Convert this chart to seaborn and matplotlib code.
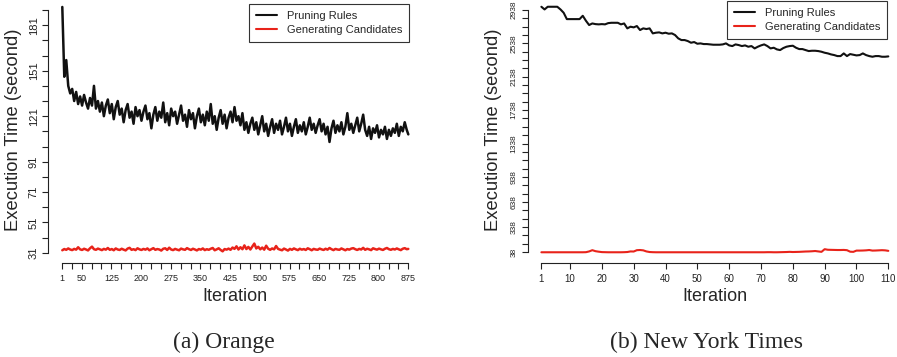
import matplotlib
matplotlib.use("Agg")
import pandas as pd
import seaborn as sns
import matplotlib.pyplot as plt

# --- data --------------------------------------------------------------
# Orange: one sample every 5 iterations (1, 6, ..., 871) plus the last one (875)
orange_pruning = [
    193, 147, 158, 141, 136, 139, 131, 137, 129, 134,
    128, 135, 130, 126, 133, 128, 141, 126, 131, 124,
    130, 121, 128, 132, 123, 129, 119, 127, 131, 122,
    126, 117, 125, 129, 120, 124, 116, 127, 121, 125,
    118, 124, 128, 119, 123, 113, 122, 127, 118, 124,
    120, 130, 117, 123, 115, 126, 121, 124, 116, 122,
    128, 118, 122, 114, 125, 119, 123, 113, 121, 126,
    117, 122, 115, 124, 118, 129, 116, 121, 112, 120,
    125, 116, 122, 113, 120, 124, 117, 127, 118, 121,
    115, 123, 112, 117, 110, 116, 120, 112, 117, 109,
    115, 121, 111, 116, 108, 114, 119, 110, 116, 112,
    118, 109, 114, 120, 111, 116, 108, 114, 119, 110,
    115, 111, 117, 109, 114, 120, 112, 116, 110, 115,
    119, 111, 116, 109, 114, 104, 113, 118, 110, 115,
    111, 117, 109, 114, 123, 112, 116, 110, 115, 120,
    111, 116, 122, 112, 108, 114, 106, 113, 110, 115,
    107, 112, 109, 114, 106, 112, 108, 113, 110, 116,
    108, 114, 111, 117, 112,
    109,
]
orange_generating = [
    32.6, 33.4, 32.9, 33.8, 33.1, 32.7, 33.5, 33.0, 34.6, 33.2,
    32.8, 33.6, 33.1, 32.5, 33.9, 35.0, 33.3, 32.9, 33.7, 33.2,
    32.7, 33.5, 33.0, 34.1, 32.9, 33.4, 32.6, 33.8, 33.1, 32.8,
    33.6, 33.0, 32.5, 33.7, 34.2, 32.9, 33.3, 32.7, 33.9, 33.2,
    32.8, 33.5, 33.0, 33.8, 32.6, 33.3, 34.0, 32.9, 33.4, 33.1,
    32.4, 33.6, 33.9, 32.8, 34.3, 33.1, 32.7, 33.5, 33.0, 32.6,
    33.7, 33.2, 32.9, 34.0, 33.3, 32.8, 33.6, 33.1, 32.5, 33.4,
    33.0, 33.8, 32.7, 33.3, 32.9, 33.6, 34.1, 32.6, 33.2, 33.9,
    32.8, 31.9, 33.4, 33.0, 33.7, 32.9, 34.4, 33.5, 35.2, 33.1,
    34.6, 33.3, 35.8, 33.4, 34.8, 33.1, 35.1, 37.0, 33.8, 34.9,
    33.2, 34.4, 33.0, 35.6, 33.6, 32.9, 33.8, 33.2, 35.4, 33.5,
    33.0, 32.6, 33.7, 33.1, 32.4, 33.5, 32.9, 33.8, 33.2, 32.7,
    33.6, 33.0, 33.4, 32.8, 33.9, 33.3, 32.6, 33.5, 33.1, 32.9,
    33.7, 33.2, 32.8, 33.6, 33.0, 34.1, 33.3, 32.7, 33.5, 33.1,
    32.9, 33.8, 33.2, 32.6, 33.4, 33.0, 33.7, 34.0, 33.3, 32.8,
    33.5, 33.1, 34.2, 32.9, 33.6, 33.2, 32.7, 33.9, 33.4, 33.0,
    33.7, 33.2, 32.8, 33.6, 34.1, 33.3, 32.9, 33.5, 33.1, 33.8,
    33.2, 32.7, 33.6, 34.0, 33.3,
    33.5,
]
orange_iter = list(range(1, 876, 5)) + [875]

# New York Times: every iteration 1..110
nyt_pruning = [
    2977, 2945, 2977, 2977, 2977, 2977, 2945, 2905, 2829, 2829,
    2829, 2829, 2829, 2869, 2809, 2758, 2777, 2769, 2766, 2769,
    2766, 2781, 2785, 2785, 2785, 2766, 2777, 2718, 2738, 2730,
    2746, 2698, 2718, 2710, 2718, 2658, 2666, 2670, 2658, 2666,
    2654, 2658, 2638, 2598, 2578, 2578, 2566, 2546, 2554, 2534,
    2538, 2530, 2530, 2526, 2522, 2522, 2522, 2526, 2538, 2514,
    2506, 2526, 2518, 2506, 2514, 2498, 2506, 2478, 2498, 2514,
    2526, 2506, 2478, 2486, 2466, 2458, 2482, 2498, 2506, 2510,
    2486, 2470, 2470, 2458, 2446, 2450, 2450, 2446, 2438, 2426,
    2418, 2406, 2398, 2386, 2386, 2418, 2386, 2410, 2402, 2394,
    2398, 2418, 2398, 2386, 2378, 2386, 2386, 2378, 2378, 2382,
]
nyt_generating = [
    35, 35, 35, 35, 35, 35, 35, 35, 35, 35,
    35, 35, 35, 35, 36, 45, 60, 48, 42, 37,
    36, 35, 35, 35, 35, 35, 36, 38, 45, 44,
    60, 62, 58, 45, 38, 36, 35, 35, 35, 35,
    35, 35, 35, 35, 35, 35, 35, 35, 35, 35,
    35, 35, 35, 35, 35, 35, 35, 35, 35, 35,
    35, 35, 35, 35, 35, 35, 35, 35, 35, 35,
    35, 36, 36, 35, 35, 36, 37, 38, 40, 38,
    39, 40, 42, 44, 45, 47, 50, 45, 40, 72,
    65, 64, 63, 62, 62, 63, 60, 42, 40, 55,
    55, 56, 58, 62, 55, 56, 58, 60, 58, 52,
]
nyt_iter = list(range(1, 111))

series_names = ["Pruning Rules", "Generating Candidates"]
palette = {"Pruning Rules": "#111111", "Generating Candidates": "#e8231a"}

orange_df = pd.DataFrame({
    "Iteration": orange_iter * 2,
    "time": orange_pruning + orange_generating,
    "series": [series_names[0]] * len(orange_iter) + [series_names[1]] * len(orange_iter),
})
nyt_df = pd.DataFrame({
    "Iteration": nyt_iter * 2,
    "time": nyt_pruning + nyt_generating,
    "series": [series_names[0]] * len(nyt_iter) + [series_names[1]] * len(nyt_iter),
})

orange_yticks = list(range(31, 192, 10))
orange_ylabels = [31, 51, 71, 91, 121, 151, 181]
orange_xticks = [1] + list(range(25, 876, 25))
orange_xlabels = [1] + list(range(50, 876, 75))
nyt_yticks = list(range(38, 2939, 100))
nyt_ylabels = [38, 338, 638, 938, 1338, 1738, 2138, 2538, 2938]
nyt_xticks = [1] + list(range(10, 111, 10))

# --- figure --------------------------------------------------------------
sns.set_style("ticks")
plt.rcParams["font.family"] = ["Liberation Sans", "DejaVu Sans"]

W, H = 897, 357
fig = plt.figure(figsize=(W / 100, H / 100), dpi=100)


def add_axes_px(left, right, bottom, top):
    return fig.add_axes([left / W, 1 - bottom / H, (right - left) / W, (bottom - top) / H])


ax1 = add_axes_px(48.4, 422.2, 262.7, 0)
ax2 = add_axes_px(527.5, 902.2, 262.7, 0)

panels = [
    (ax1, orange_df, (-34.1, 910.1), (24.4, 197.6), orange_xticks, orange_xlabels,
     orange_yticks, orange_ylabels, 6.5, 8, (409, 4), 1.8),
    (ax2, nyt_df, (-3.36, 114.36), (-90, 3058), nyt_xticks, nyt_xticks,
     nyt_yticks, nyt_ylabels, 7, 6, (886.7, 1), 1.5),
]

for (ax, df, xlim, ylim, xt, xl, yt, yl, xfs, yfs, leg_xy, lw) in panels:
    sns.lineplot(data=df, x="Iteration", y="time", hue="series", palette=palette,
                 estimator=None, linewidth=lw, ax=ax)
    ax.set_xlim(*xlim)
    ax.set_ylim(*ylim)

    ax.set_xticks(xt)
    ax.set_xticklabels([str(t) if t in xl else "" for t in xt], fontsize=xfs, color="#222222")
    ax.set_yticks(yt)
    ax.set_yticklabels([str(t) if t in yl else "" for t in yt], fontsize=yfs, color="#222222",
                       rotation=90, va="center")

    for side in ["top", "right"]:
        ax.spines[side].set_visible(False)
    ax.spines["left"].set_bounds(yt[0], yt[-1])
    ax.spines["bottom"].set_bounds(xt[0], xt[-1])
    for side in ["left", "bottom"]:
        ax.spines[side].set_linewidth(0.8)
        ax.spines[side].set_color("#222222")
    ax.tick_params(axis="both", direction="out", length=4, width=0.8, color="#222222")
    ax.tick_params(axis="x", pad=4)
    ax.tick_params(axis="y", pad=3)

    ax.set_xlabel("Iteration", fontsize=13)
    ax.xaxis.set_label_coords(0.5, -0.096)
    ax.set_ylabel("Execution Time (second)", fontsize=13.2)

    handles, labels = ax.get_legend_handles_labels()
    leg = ax.legend(handles, labels, loc="upper right",
                    bbox_to_anchor=(leg_xy[0] / W, 1 - leg_xy[1] / H),
                    bbox_transform=fig.transFigure,
                    borderaxespad=0, fontsize=8, handlelength=1.9, handletextpad=0.9,
                    labelspacing=0.4, borderpad=0.6, fancybox=False, framealpha=1,
                    edgecolor="#333333")
    leg.get_frame().set_linewidth(0.8)
    for line in leg.get_lines():
        line.set_linewidth(1.5)

ax1.yaxis.set_label_coords(-0.071, 0.505)
ax2.yaxis.set_label_coords(-0.068, 0.505)

fig.text(224 / W, 1 - 348 / H, "(a) Orange", ha="center", va="baseline",
         family="Liberation Serif", fontsize=17)
fig.text(707 / W, 1 - 348 / H, "(b) New York Times", ha="center", va="baseline",
         family="Liberation Serif", fontsize=17)

fig.savefig("out.png", dpi=100)
